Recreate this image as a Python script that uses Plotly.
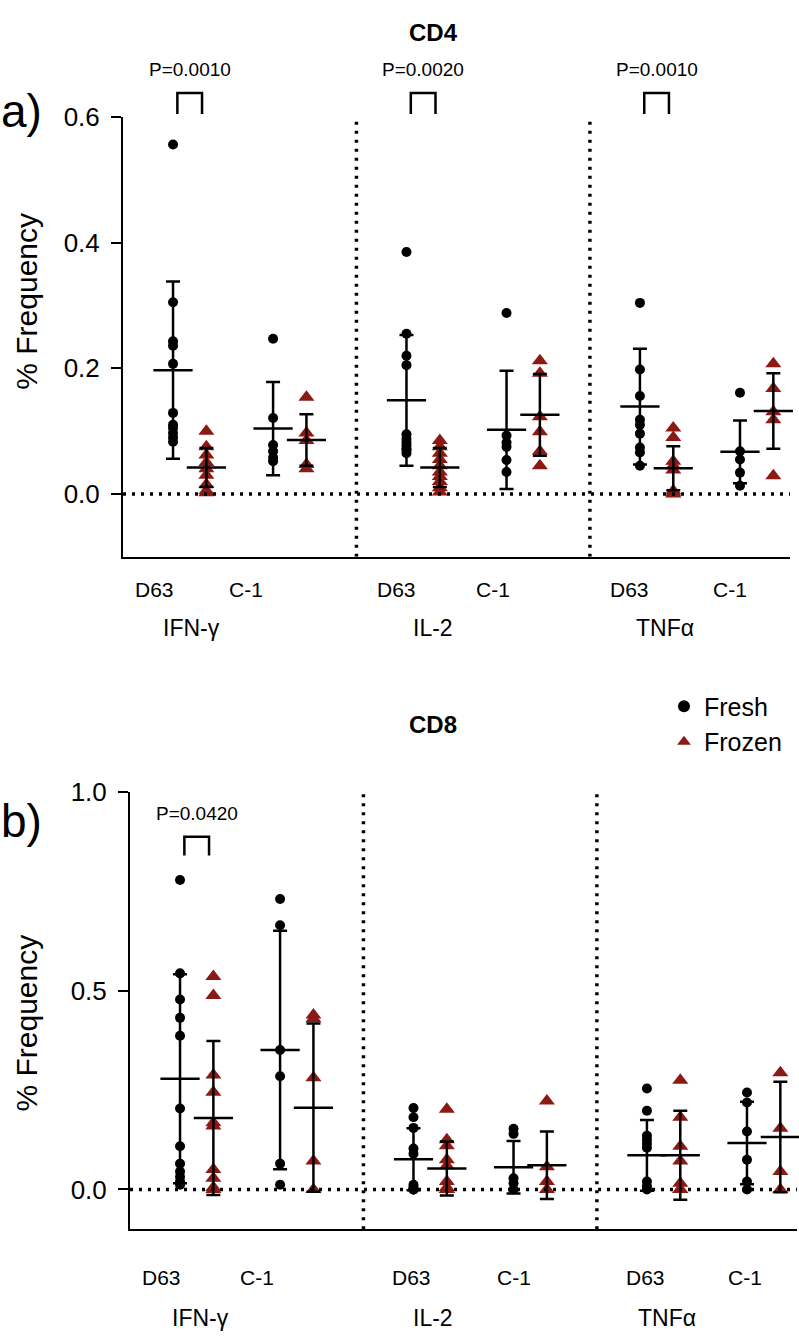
import plotly.graph_objects as go

W, H = 799, 1336

cytokines = ['IFN-γ', 'IL-2', 'TNFα']
days = ['D63', 'C-1']

# columns: IFN-γ D63, IFN-γ C-1, IL-2 D63, IL-2 C-1, TNFα D63, TNFα C-1
cd4_fresh = [
    [0.556, 0.305, 0.243, 0.236, 0.207, 0.129, 0.110, 0.105, 0.097, 0.090, 0.083],
    [0.247, 0.121, 0.078, 0.068, 0.058, 0.052],
    [0.385, 0.255, 0.220, 0.205, 0.095, 0.088, 0.082, 0.077, 0.072, 0.070, 0.065],
    [0.288, 0.093, 0.082, 0.075, 0.054, 0.035],
    [0.304, 0.198, 0.156, 0.118, 0.110, 0.096, 0.074, 0.066, 0.045],
    [0.161, 0.068, 0.055, 0.034, 0.013],
]
cd4_frozen = [
    [0.100, 0.075, 0.062, 0.050, 0.040, 0.030, 0.015, 0.005, 0.002],
    [0.154, 0.097, 0.085, 0.047, 0.040],
    [0.085, 0.075, 0.065, 0.055, 0.045, 0.035, 0.028, 0.020, 0.010, 0.003],
    [0.212, 0.192, 0.123, 0.099, 0.068, 0.045],
    [0.105, 0.090, 0.052, 0.045, 0.038, 0.005, 0.002, 0.000],
    [0.207, 0.168, 0.131, 0.118, 0.029],
]
cd4_fresh_mean = [0.197, 0.104, 0.149, 0.102, 0.139, 0.067]
cd4_fresh_sd = [0.141, 0.074, 0.104, 0.094, 0.092, 0.050]
cd4_frozen_mean = [0.042, 0.086, 0.042, 0.126, 0.041, 0.132]
cd4_frozen_sd = [0.031, 0.041, 0.031, 0.065, 0.035, 0.060]

cd8_fresh = [
    [0.779, 0.544, 0.478, 0.432, 0.387, 0.204, 0.109, 0.065, 0.045, 0.032, 0.020, 0.012],
    [0.731, 0.665, 0.351, 0.285, 0.065, 0.012],
    [0.205, 0.182, 0.155, 0.103, 0.090, 0.012, 0.005, 0.0, 0.0, 0.0],
    [0.153, 0.140, 0.028, 0.016, 0.0],
    [0.254, 0.198, 0.135, 0.125, 0.115, 0.105, 0.020, 0.008, 0.0],
    [0.244, 0.219, 0.146, 0.075, 0.020, 0.0],
]
cd8_frozen = [
    [0.536, 0.488, 0.288, 0.245, 0.168, 0.160, 0.050, 0.028, 0.005, 0.0],
    [0.439, 0.430, 0.281, 0.072, 0.0],
    [0.202, 0.125, 0.110, 0.075, 0.060, 0.020, 0.005, 0.0, 0.0, 0.0],
    [0.223, 0.057, 0.020, 0.0],
    [0.275, 0.182, 0.109, 0.072, 0.016, 0.0, 0.0],
    [0.294, 0.154, 0.045, 0.0],
]
cd8_fresh_mean = [0.279, 0.351, 0.076, 0.056, 0.086, 0.117]
cd8_fresh_sd = [0.263, 0.300, 0.078, 0.066, 0.089, 0.104]
cd8_frozen_mean = [0.180, 0.206, 0.053, 0.061, 0.086, 0.132]
cd8_frozen_sd = [0.194, 0.212, 0.068, 0.085, 0.112, 0.139]

p_labels_cd4 = ['P=0.0010', 'P=0.0020', 'P=0.0010']
p_labels_cd8 = ['P=0.0420']

RED = '#8b1a14'
FONT = 'Arial, Liberation Sans, sans-serif'

def px_x(p):
    return p / W

def px_y(p):
    return (H - p) / H

fig = go.Figure()

# column positions: group * 7 + day * 3 (+1 for frozen)
def col_x(i, frozen):
    return (i // 2) * 7 + (i % 2) * 3 + (1 if frozen else 0)

def add_panel(fresh, frozen, fm, fsd, zm, zsd, xa, ya, legend):
    for i in range(6):
        for vals, mean, sd, fr in ((fresh[i], fm[i], fsd[i], False), (frozen[i], zm[i], zsd[i], True)):
            x = col_x(i, fr)
            fig.add_trace(go.Scatter(
                x=[x] * len(vals), y=vals, mode='markers',
                name='Frozen' if fr else 'Fresh', legendgroup='Frozen' if fr else 'Fresh',
                showlegend=legend and i == 0,
                marker=dict(symbol='triangle-up' if fr else 'circle',
                            size=14 if fr else 10, color=RED if fr else 'black'),
                xaxis=xa, yaxis=ya, cliponaxis=False,
            ))
            # mean line + SD error bar
            fig.add_trace(go.Scatter(
                x=[x], y=[mean], mode='markers', showlegend=False,
                marker=dict(symbol='line-ew', size=28, line=dict(color='black', width=2.5)),
                error_y=dict(type='data', array=[sd], color='black', thickness=2.5, width=7),
                xaxis=xa, yaxis=ya, cliponaxis=False,
            ))

add_panel(cd4_fresh, cd4_frozen, cd4_fresh_mean, cd4_fresh_sd,
          cd4_frozen_mean, cd4_frozen_sd, 'x', 'y', True)
add_panel(cd8_fresh, cd8_frozen, cd8_fresh_mean, cd8_fresh_sd,
          cd8_frozen_mean, cd8_frozen_sd, 'x2', 'y2', False)

axis_common = dict(showgrid=False, zeroline=False, showline=True, linecolor='black', linewidth=2)
yax_common = dict(axis_common, ticks='outside', ticklen=10, tickwidth=2, tickcolor='black',
                  ticklabelstandoff=6, tickfont=dict(size=26, color='black'), tickformat='.1f')

# panel geometry (pixels)
top = dict(x0=123, x1=790, y0=103, y1=548)
bot = dict(x0=130, x1=797, y0=786, y1=1228)

fig.update_layout(
    width=W, height=H,
    margin=dict(l=0, r=0, t=0, b=0),
    paper_bgcolor='white', plot_bgcolor='white',
    font=dict(family=FONT, color='black'),
    xaxis=dict(axis_common, domain=[px_x(top['x0']), px_x(top['x1'])], range=[-1.5, 18.5],
               showticklabels=False, ticks=''),
    yaxis=dict(yax_common, domain=[px_y(top['y1']), px_y(top['y0'])], range=[-0.1, 0.6],
               tickvals=[0.0, 0.2, 0.4, 0.6]),
    xaxis2=dict(axis_common, domain=[px_x(bot['x0']), px_x(bot['x1'])], range=[-1.5, 18.5],
                showticklabels=False, ticks='', anchor='y2'),
    yaxis2=dict(yax_common, domain=[px_y(bot['y1']), px_y(bot['y0'])], range=[-0.1, 1.0],
                tickvals=[0.0, 0.5, 1.0], anchor='x2'),
    legend=dict(x=px_x(664), y=px_y(676), xanchor='left', yanchor='top',
                font=dict(size=25), bgcolor='rgba(0,0,0,0)', itemsizing='constant',
                tracegroupgap=0),
)

dot = dict(color='black', width=3.5, dash='3px,6px')
shapes = []
for xa, ya, yr in (('x', 'y', (-0.1, 0.6)), ('x2', 'y2', (-0.1, 1.0))):
    shapes.append(dict(type='line', xref=xa, yref=ya, x0=-1.5, x1=18.5, y0=0, y1=0, line=dot))
    for sx in (5.5, 12.5):
        shapes.append(dict(type='line', xref=xa, yref=ya, x0=sx, x1=sx, y0=yr[0], y1=yr[1], line=dot))

annotations = []

def note(xref, x, y, text, size, angle=0):
    annotations.append(dict(xref=xref, yref='paper', x=x, y=px_y(y), text=text, textangle=angle,
                            xanchor='center', yanchor='middle', showarrow=False,
                            font=dict(size=size)))

def bracket(xa, g, label, y_text, y_top, y_bot):
    xl, xr = g * 7 + 0.13, g * 7 + 0.87
    shapes.append(dict(type='path', xref=xa, yref='paper',
                       path=f'M {xl},{px_y(y_bot)} L {xl},{px_y(y_top)} L {xr},{px_y(y_top)} L {xr},{px_y(y_bot)}',
                       line=dict(color='black', width=2.5)))
    note(xa, g * 7 + 0.5, y_text, label, 19)

for g, lab in enumerate(p_labels_cd4):
    bracket('x', g, lab, 55, 79, 100)
for g, lab in enumerate(p_labels_cd8):
    bracket('x2', g, lab, 808, 831, 850)

# label positions along x (axis units)
day_pos_top = [-0.55, 2.2, 6.7, 9.6, 13.7, 16.7]
day_pos_bot = [-0.55, 2.3, 6.95, 10.0, 13.95, 16.95]
cyt_pos_top = [0.55, 7.8, 14.75]
cyt_pos_bot = [0.6, 7.6, 14.6]

for xa, y_day, y_cyt, dpos, cpos in (('x', 581, 620, day_pos_top, cyt_pos_top),
                                     ('x2', 1277, 1318, day_pos_bot, cyt_pos_bot)):
    for g, cyt in enumerate(cytokines):
        note(xa, cpos[g], y_cyt, cyt, 23)
        for d, day in enumerate(days):
            note(xa, dpos[g * 2 + d], y_day, day, 21)

note('paper', px_x(27), 290, '% Frequency', 30, -90)
note('paper', px_x(27), 1020, '% Frequency', 30, -90)
note('paper', px_x(21), 97, 'a)', 46)
note('paper', px_x(21), 815, 'b)', 46)
note('paper', px_x(433), 18, '<b>CD4</b>', 24)
note('paper', px_x(433), 718, '<b>CD8</b>', 24)

fig.update_layout(shapes=shapes, annotations=annotations)

fig.write_html("out.html", config={'displayModeBar': False},
               post_script="document.body.style.margin='0';")
